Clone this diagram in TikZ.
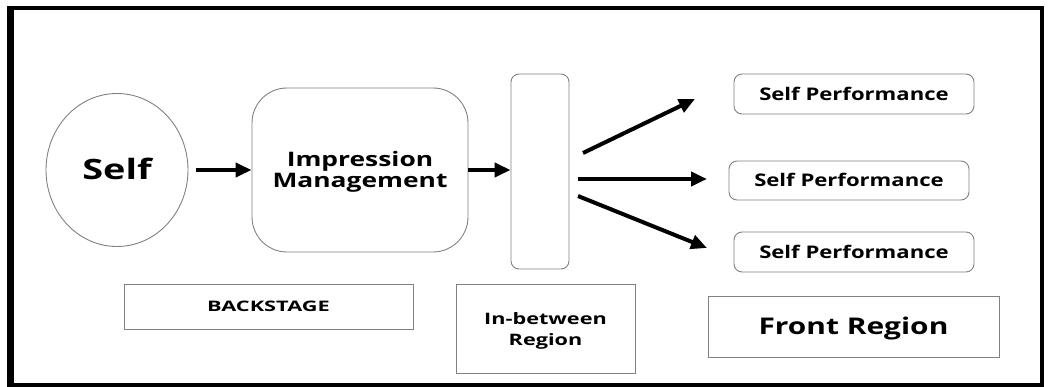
\documentclass[tikz,border=0pt]{standalone}
\usepackage{fontspec}
\setmainfont{Open Sans}
\usetikzlibrary{arrows.meta,shapes.geometric}
% #1 horizontal stretch, #2 raise of first baseline above node centre, #3 lines
\newcommand{\wlines}[3]{\raisebox{#2}[0pt][0pt]{\scalebox{#1}[1]{\begin{tabular}[t]{@{}c@{}}#3\end{tabular}}}}
\tikzset{
  box/.style={draw=black!50, line width=0.9pt, inner sep=0pt, align=center, font=\bfseries},
  oneline/.style={text height=#1, text depth=0pt},
  fat/.style={line width=4pt, -{Triangle[length=16pt,width=14pt]}},
}
\begin{document}
\begin{tikzpicture}[x=1pt,y=-1pt]
\useasboundingbox (0,0) rectangle (1050,387);
% frame
\draw[line width=4pt] (10,8) rectangle (1042,385);
\draw[line width=7pt] (10.5,6) -- (10.5,387);
% nodes
\node[box, ellipse, oneline=20pt, minimum width=142pt, minimum height=153pt, font=\bfseries\fontsize{28}{30}\selectfont] (self) at (117,170) {\scalebox{1.35}[1]{Self}};
\node[box, rounded corners=35pt, minimum width=216pt, minimum height=164pt, text height=0pt, text depth=0pt, font=\bfseries\fontsize{20}{20.5}\selectfont] (im) at (360,170) {\wlines{1.32}{3.3pt}{Impression\\Management}};
\node[box, rounded corners=8pt, minimum width=58pt, minimum height=195pt] (tall) at (540,171.5) {};
\node[box, oneline=12.4pt, rounded corners=8pt, minimum width=240pt, minimum height=40pt, font=\bfseries\fontsize{17.4}{19}\selectfont] (sp1) at (854,94) {\scalebox{1.27}[1]{Self Performance}};
\node[box, oneline=12.4pt, rounded corners=8pt, minimum width=240pt, minimum height=39pt, font=\bfseries\fontsize{17.4}{19}\selectfont] (sp2) at (849,180.5) {\scalebox{1.27}[1]{Self Performance}};
\node[box, oneline=12.4pt, rounded corners=8pt, minimum width=240pt, minimum height=40pt, font=\bfseries\fontsize{17.4}{19}\selectfont] (sp3) at (854,252) {\scalebox{1.27}[1]{Self Performance}};
\node[box, oneline=16.4pt, minimum width=291pt, minimum height=61pt, font=\bfseries\fontsize{23}{25}\selectfont] (front) at (853.5,326.5) {\scalebox{1.3}[1]{Front Region}};
\node[box, oneline=10.4pt, minimum width=289pt, minimum height=45pt, font=\bfseries\fontsize{14.5}{16}\selectfont] (back) at (268.5,306.5) {\scalebox{1.5}[1]{BACKSTAGE}};
\node[box, minimum width=179pt, minimum height=89pt, text height=0pt, text depth=0pt, font=\bfseries\fontsize{15.8}{20.7}\selectfont] (inb) at (545.5,328.5) {\wlines{1.37}{3.5pt}{In-between\\Region}};
% arrows
\draw[fat, shorten <=8pt] (self.east) -- (self.east -| im.west);
\draw[fat] (im.east) -- (im.east -| tall.west);
\coordinate (u0) at (583,153);
\coordinate (u1) at (695,99);
\coordinate (m0) at (578,179);
\coordinate (m1) at (707,179);
\coordinate (l0) at (578,196);
\coordinate (l1) at (707,248);
\draw[fat] (u0) -- (u1);
\draw[fat] (m0) -- (m1);
\draw[fat] (l0) -- (l1);
\end{tikzpicture}
\end{document}
